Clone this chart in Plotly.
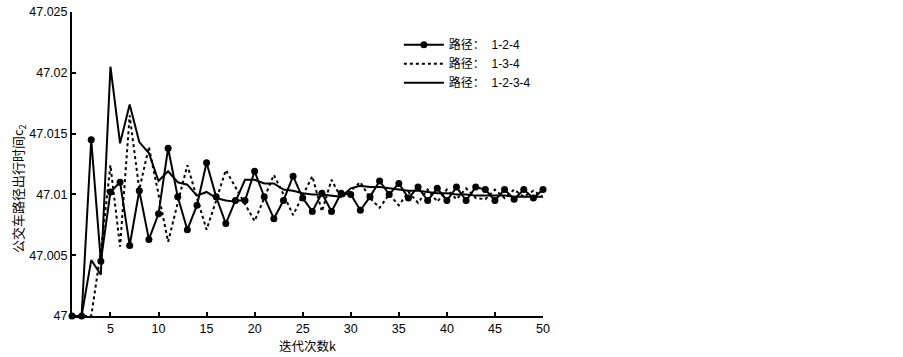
import plotly.graph_objects as go

k = list(range(1, 51))

route_124 = [47.0000, 47.0000, 47.0145, 47.0045, 47.0102, 47.0110, 47.0058, 47.0103, 47.0063, 47.0084,
             47.0138, 47.0098, 47.0071, 47.0091, 47.0126, 47.0098, 47.0076, 47.0095, 47.0095, 47.0119,
             47.0098, 47.0080, 47.0095, 47.0115, 47.0097, 47.0086, 47.0101, 47.0086, 47.0101, 47.0100,
             47.0087, 47.0098, 47.0111, 47.0100, 47.0109, 47.0097, 47.0106, 47.0095, 47.0105, 47.0095,
             47.0106, 47.0095, 47.0106, 47.0104, 47.0095, 47.0104, 47.0096, 47.0104, 47.0097, 47.0104]

route_134 = [47.0000, 47.0000, 47.0000, 47.0053, 47.0124, 47.0057, 47.0165, 47.0104, 47.0139, 47.0100,
             47.0061, 47.0093, 47.0124, 47.0097, 47.0071, 47.0095, 47.0120, 47.0106, 47.0092, 47.0078,
             47.0097, 47.0116, 47.0100, 47.0083, 47.0099, 47.0115, 47.0086, 47.0112, 47.0097, 47.0103,
             47.0110, 47.0097, 47.0089, 47.0100, 47.0091, 47.0102, 47.0093, 47.0104, 47.0094, 47.0104,
             47.0096, 47.0105, 47.0097, 47.0096, 47.0104, 47.0097, 47.0104, 47.0098, 47.0103, 47.0098]

route_1234 = [47.0000, 47.0000, 47.0046, 47.0034, 47.0205, 47.0142, 47.0174, 47.0143, 47.0134, 47.0111,
              47.0119, 47.0110, 47.0108, 47.0099, 47.0102, 47.0097, 47.0095, 47.0094, 47.0112, 47.0112,
              47.0109, 47.0109, 47.0104, 47.0103, 47.0101, 47.0100, 47.0100, 47.0099, 47.0098, 47.0105,
              47.0107, 47.0106, 47.0106, 47.0105, 47.0104, 47.0103, 47.0103, 47.0102, 47.0101, 47.0101,
              47.0100, 47.0100, 47.0099, 47.0099, 47.0099, 47.0099, 47.0098, 47.0098, 47.0098, 47.0098]

names = ["路径：  1-2-4", "路径：  1-3-4", "路径：  1-2-3-4"]
x_ticks = [5, 10, 15, 20, 25, 30, 35, 40, 45, 50]
y_ticks = [47, 47.005, 47.01, 47.015, 47.02, 47.025]
y_tick_text = ["47", "47.005", "47.01", "47.015", "47.02", "47.025"]
x_title = "迭代次数k"
y_title = "公交车路径出行时间c<sub>2</sub>"

fig = go.Figure()
fig.add_trace(go.Scatter(x=k, y=route_124, name=names[0], mode="lines+markers",
                         line=dict(color="black", width=2),
                         marker=dict(symbol="circle", size=7, color="black"),
                         cliponaxis=False))
fig.add_trace(go.Scatter(x=k, y=route_134, name=names[1], mode="lines",
                         line=dict(color="black", width=2, dash="dot"),
                         cliponaxis=False))
fig.add_trace(go.Scatter(x=k, y=route_1234, name=names[2], mode="lines",
                         line=dict(color="black", width=2),
                         cliponaxis=False))

font_family = "Liberation Sans, Arial, Noto Sans CJK SC, sans-serif"
cjk_family = "Noto Sans CJK SC, sans-serif"

fig.update_layout(
    width=903, height=357,
    margin=dict(l=72, r=360, t=12, b=41),
    paper_bgcolor="white", plot_bgcolor="white",
    font=dict(family=font_family, size=12, color="black"),
    showlegend=True,
    legend=dict(x=0.694, y=0.94, xanchor="left", yanchor="top",
                bgcolor="rgba(0,0,0,0)", borderwidth=0,
                font=dict(size=12, family=font_family),
                tracegroupgap=0, itemwidth=40),
    xaxis=dict(range=[1, 50], tickmode="array", tickvals=x_ticks,
               ticks="inside", ticklen=4, tickwidth=1.5, tickcolor="black",
               showline=True, linecolor="black", linewidth=2, mirror=False,
               showgrid=False, zeroline=False, automargin=False,
               ticklabeloverflow="allow",
               tickfont=dict(size=12.5),
               title=dict(text=x_title, standoff=0,
                          font=dict(size=12.5, family=cjk_family))),
    yaxis=dict(range=[47, 47.025], tickmode="array", tickvals=y_ticks, ticktext=y_tick_text,
               ticks="inside", ticklen=4, tickwidth=1.5, tickcolor="black",
               showline=True, linecolor="black", linewidth=2, mirror=False,
               showgrid=False, zeroline=False, automargin=False,
               ticklabeloverflow="allow",
               tickfont=dict(size=12.5)),
    annotations=[dict(text=y_title, textangle=-90, xref="paper", yref="paper",
                      x=-0.113, y=0.42, xanchor="center", yanchor="middle",
                      showarrow=False, font=dict(size=13, family=cjk_family))],
)

fig.write_html("out.html", config={"displayModeBar": False},
               post_script="document.body.style.margin='0';")
